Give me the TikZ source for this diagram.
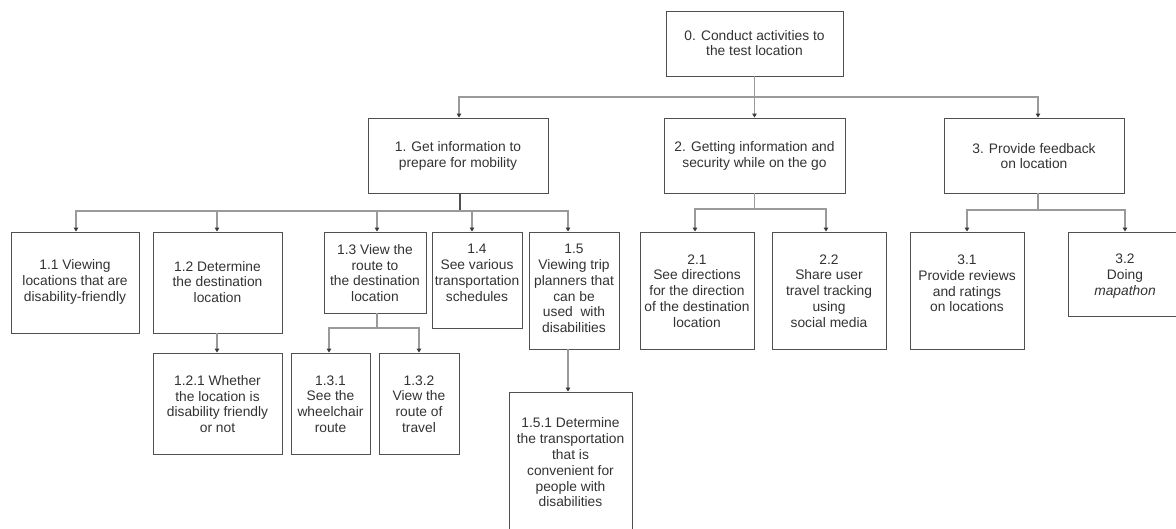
\documentclass[tikz,border=0pt]{standalone}
\usepackage{fontspec}
\setmainfont{Liberation Sans}
\usetikzlibrary{arrows.meta}
\definecolor{boxc}{HTML}{505050}
\definecolor{linec}{HTML}{9A9A9A}
\definecolor{tipc}{HTML}{3A3A3A}
\definecolor{txtc}{HTML}{333333}
\begin{document}
\begin{tikzpicture}[x=1pt,y=-1pt,
  box/.style={draw=boxc,line width=0.9pt,inner sep=0pt,rectangle},
  txt/.style={align=center,inner sep=0pt,text=txtc,font=\fontsize{13.8}{15.8}\selectfont},
  conn/.style={draw=linec,line width=1.1pt},
  stub/.style={draw=boxc,line width=1.3pt},
  arr/.style={conn,-{Triangle[width=4.5pt,length=4pt,color=tipc]}},
]
\useasboundingbox (0,0) rectangle (1176,529);
\clip (0,0) rectangle (1176,529);
\fill[white] (0,0) rectangle (1176,529);

% bus levels
\coordinate (y97) at (0,97);
\coordinate (y211) at (0,211);
\coordinate (y209) at (0,209);
\coordinate (y210) at (0,210);
\coordinate (y328) at (0,328);

% boxes
\node[box,minimum width=177pt,minimum height=65pt] (n0) at (754.5,43.5) {};
\node[box,minimum width=180pt,minimum height=75pt] (n1) at (458,155.5) {};
\node[box,minimum width=181pt,minimum height=75pt] (n2) at (754.5,155.5) {};
\node[box,minimum width=180pt,minimum height=75pt] (n3) at (1034,155.5) {};
\node[box,minimum width=128pt,minimum height=101pt] (n11) at (75,282.5) {};
\node[box,minimum width=129pt,minimum height=101pt] (n12) at (217.5,282.5) {};
\node[box,minimum width=102pt,minimum height=81pt] (n13) at (375,272.5) {};
\node[box,minimum width=90pt,minimum height=96pt] (n14) at (477,280) {};
\node[box,minimum width=90pt,minimum height=117pt] (n15) at (574,290.5) {};
\node[box,minimum width=114pt,minimum height=117pt] (n21) at (697,290.5) {};
\node[box,minimum width=114pt,minimum height=117pt] (n22) at (829,290.5) {};
\node[box,minimum width=114pt,minimum height=117pt] (n31) at (967,290.5) {};
\node[box,minimum width=114pt,minimum height=84pt] (n32) at (1125,274) {};
\node[box,minimum width=129pt,minimum height=101pt] (n121) at (217.5,403.5) {};
\node[box,minimum width=79pt,minimum height=101pt] (n131) at (330.5,403.5) {};
\node[box,minimum width=80pt,minimum height=101pt] (n132) at (419,403.5) {};
\node[box,minimum width=123pt,minimum height=148pt] (n151) at (570.5,466) {};

% texts
\node[txt] (t0) at (754.5,43) {0. Conduct activities to\\the test location};
\node[txt] (t1) at (458,156) {1. Get information to\\prepare for mobility};
\node[txt] (t2) at (754.5,156) {2. Getting information and\\security while on the go};
\node[txt] (t3) at (1034,156) {3. Provide feedback\\on location};
\node[txt] (t11) at (75,282) {1.1 Viewing\\locations that are\\disability-friendly};
\node[txt] (t12) at (217.5,282) {1.2 Determine\\the destination\\location};
\node[txt] (t13) at (375,273) {1.3 View the\\route to\\the destination\\location};
\node[txt] (t14) at (477,273) {1.4\\See various\\transportation\\schedules};
\node[txt] (t15) at (574,288.5) {1.5\\Viewing trip\\planners that\\can be\\used\ \ with\\disabilities};
\node[txt] (t21) at (697,291) {2.1\\See directions\\for the direction\\of the destination\\location};
\node[txt] (t22) at (829,291) {2.2\\Share user\\travel tracking\\using\\social media};
\node[txt] (t31) at (967,283.5) {3.1\\Provide reviews\\and ratings\\on locations};
\node[txt] (t32) at (1125,276) {3.2\\Doing\\\textit{mapathon}};
\node[txt] (t121) at (217.5,404) {1.2.1 Whether\\the location is\\disability friendly\\or not};
\node[txt] (t131) at (330.5,404) {1.3.1\\See the\\wheelchair\\route};
\node[txt] (t132) at (419,404) {1.3.2\\View the\\route of\\travel};
\node[txt] (t151) at (570.5,462.5) {1.5.1 Determine\\the transportation\\that is\\convenient for\\people with\\disabilities};

% level 0 -> 1
\draw[conn] (n0.south) -- (n0.south |- y97);
\draw[arr] (n0.south |- y97) -| ([xshift=1]n1.north);
\draw[arr] (n0.south |- y97) -- (n2.north);
\draw[arr] (n0.south |- y97) -| ([xshift=4]n3.north);

% level 1 -> 1.x
\draw[stub] ([xshift=2]n1.south) -- ([xshift=2]n1.south |- y211);
\draw[arr] ([xshift=2]n1.south |- y211) -| ([xshift=1]n11.north);
\draw[arr] ([xshift=2]n1.south |- y211) -| ([xshift=-0.5]n12.north);
\draw[arr] ([xshift=2]n1.south |- y211) -| ([xshift=2]n13.north);
\draw[arr] ([xshift=2]n1.south |- y211) -| ([xshift=-5]n14.north);
\draw[arr] ([xshift=2]n1.south |- y211) -| ([xshift=-6]n15.north);

% level 2 -> 2.x
\draw[conn] (n2.south) -- (n2.south |- y209);
\draw[arr] (n2.south |- y209) -| ([xshift=-2]n21.north);
\draw[arr] (n2.south |- y209) -| ([xshift=-3]n22.north);

% level 3 -> 3.x
\draw[conn] ([xshift=4]n3.south) -- ([xshift=4]n3.south |- y210);
\draw[arr] ([xshift=4]n3.south |- y210) -| (n31.north);
\draw[arr] ([xshift=4]n3.south |- y210) -| (n32.north);

% 1.2 -> 1.2.1
\draw[arr] ([xshift=-0.5]n12.south) -- ([xshift=-0.5]n121.north);

% 1.3 -> 1.3.x
\draw[conn] ([xshift=2]n13.south) -- ([xshift=2]n13.south |- y328);
\draw[arr] ([xshift=2]n13.south |- y328) -| ([xshift=-1.5]n131.north);
\draw[arr] ([xshift=2]n13.south |- y328) -| (n132.north);

% 1.5 -> 1.5.1
\draw[arr] ([xshift=-6]n15.south) -- ([xshift=-2.5]n151.north);
\end{tikzpicture}
\end{document}
